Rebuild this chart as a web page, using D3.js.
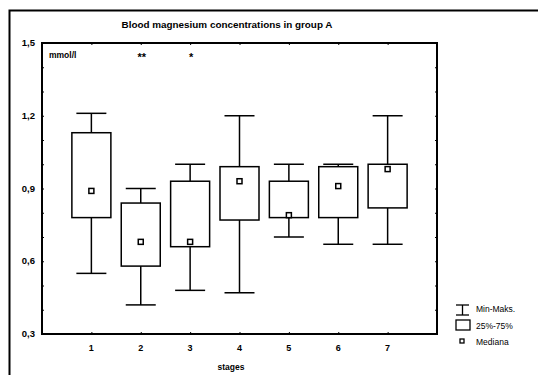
<!DOCTYPE html>
<html>
<head>
<meta charset="utf-8">
<script src="https://cdn.jsdelivr.net/npm/d3@7"></script>
<style>
    body { margin: 0; background: #fff; }
    text { font-family: "Liberation Sans", Arial, sans-serif; font-weight: bold; fill: #000; }
</style>
</head>
<body>
<div id="chart"></div>
<script>
// Stages and box values (mmol/l)
const stages = [1, 2, 3, 4, 5, 6, 7];
const mins    = [0.55, 0.42, 0.48, 0.47, 0.70, 0.67, 0.67];
const q1s     = [0.78, 0.58, 0.66, 0.77, 0.78, 0.78, 0.82];
const medians = [0.89, 0.68, 0.68, 0.93, 0.79, 0.91, 0.98];
const q3s     = [1.13, 0.84, 0.93, 0.99, 0.93, 0.99, 1.00];
const maxs    = [1.21, 0.90, 1.00, 1.20, 1.00, 1.00, 1.20];
const yTicks = [0.3, 0.6, 0.9, 1.2, 1.5];
const marks = [[2, "**"], [3, "*"]];
const legendItems = ["Min-Maks.", "25%-75%", "Mediana"];

const width = 538, height = 375;
const plot = {left: 42, right: 437, top: 43, bottom: 334};

const svg = d3.select("#chart").append("svg")
    .attr("width", width)
    .attr("height", height);

// Outer frame
svg.append("rect")
    .attr("x", 9.5).attr("y", 10.5)
    .attr("width", 560).attr("height", 400)
    .attr("fill", "none").attr("stroke", "#000").attr("stroke-width", 2);

const x = d3.scaleLinear().domain([0, 8]).range([plot.left, plot.right]);
const y = d3.scaleLinear().domain([0.3, 1.5]).range([plot.bottom, plot.top]);

// Title
svg.append("text")
    .attr("x", 227).attr("y", 28)
    .attr("text-anchor", "middle")
    .style("font-size", "9.9px")
    .text("Blood magnesium concentrations in group A");

// Axes: ticks drawn inward
const minorTicks = d3.range(0.4, 1.5, 0.1);
svg.append("g")
    .attr("transform", `translate(${plot.left},0)`)
    .call(d3.axisLeft(y).tickValues(minorTicks).tickSize(-2).tickFormat(""))
    .call(g => g.select(".domain").remove());
svg.append("g")
    .attr("transform", `translate(${plot.right},0)`)
    .call(d3.axisRight(y).tickValues(minorTicks).tickSize(-2).tickFormat(""))
    .call(g => g.select(".domain").remove());
svg.append("g")
    .attr("transform", `translate(0,${plot.bottom})`)
    .call(d3.axisBottom(x).tickValues(stages).tickSize(-2).tickFormat(""))
    .call(g => g.select(".domain").remove());
svg.append("g")
    .attr("transform", `translate(0,${plot.top})`)
    .call(d3.axisTop(x).tickValues(stages).tickSize(-2).tickFormat(""))
    .call(g => g.select(".domain").remove());

svg.append("rect")
    .attr("x", plot.left).attr("y", plot.top)
    .attr("width", plot.right - plot.left).attr("height", plot.bottom - plot.top)
    .attr("fill", "none").attr("stroke", "#000").attr("stroke-width", 2);

// Tick labels
svg.selectAll(".ylab")
    .data(yTicks)
    .enter()
    .append("text")
    .attr("class", "ylab")
    .attr("x", 35).attr("y", d => y(d) + 3)
    .attr("text-anchor", "end")
    .style("font-size", "9.5px")
    .text(d => d3.format(".1f")(d).replace(".", ","));

svg.selectAll(".xlab")
    .data(stages)
    .enter()
    .append("text")
    .attr("class", "xlab")
    .attr("x", d => x(d)).attr("y", 351)
    .attr("text-anchor", "middle")
    .style("font-size", "9px")
    .text(d => d);

svg.append("text")
    .attr("x", 231).attr("y", 370)
    .attr("text-anchor", "middle")
    .style("font-size", "8.5px")
    .text("stages");

svg.append("text")
    .attr("x", 49).attr("y", 58)
    .style("font-size", "8.5px")
    .text("mmol/l");

svg.selectAll(".mark")
    .data(marks)
    .enter()
    .append("text")
    .attr("class", "mark")
    .attr("x", d => x(d[0]) + 1).attr("y", 61)
    .attr("text-anchor", "middle")
    .style("font-size", "11px")
    .text(d => d[1]);

// Boxes
const boxW = 39, capW = 30;
const boxes = svg.selectAll(".box")
    .data(stages)
    .enter()
    .append("g")
    .attr("class", "box")
    .attr("stroke", "#000")
    .attr("stroke-width", 1.5)
    .attr("fill", "none");

boxes.append("line")
    .attr("x1", d => x(d)).attr("x2", d => x(d))
    .attr("y1", (d, i) => y(maxs[i])).attr("y2", (d, i) => y(q3s[i]));
boxes.append("line")
    .attr("x1", d => x(d)).attr("x2", d => x(d))
    .attr("y1", (d, i) => y(q1s[i])).attr("y2", (d, i) => y(mins[i]));
boxes.append("line")
    .attr("x1", d => x(d) - capW / 2).attr("x2", d => x(d) + capW / 2)
    .attr("y1", (d, i) => y(maxs[i])).attr("y2", (d, i) => y(maxs[i]));
boxes.append("line")
    .attr("x1", d => x(d) - capW / 2).attr("x2", d => x(d) + capW / 2)
    .attr("y1", (d, i) => y(mins[i])).attr("y2", (d, i) => y(mins[i]));
boxes.append("rect")
    .attr("x", d => x(d) - boxW / 2)
    .attr("y", (d, i) => y(q3s[i]))
    .attr("width", boxW)
    .attr("height", (d, i) => y(q1s[i]) - y(q3s[i]))
    .attr("fill", "#fff");
boxes.append("rect")
    .attr("x", d => x(d) - 2.5)
    .attr("y", (d, i) => y(medians[i]) - 2.5)
    .attr("width", 5).attr("height", 5)
    .attr("fill", "#fff");

// Legend
const lg = svg.append("g").attr("stroke", "#000").attr("stroke-width", 1.3).attr("fill", "none");
lg.append("line").attr("x1", 456).attr("x2", 469).attr("y1", 305).attr("y2", 305);
lg.append("line").attr("x1", 456).attr("x2", 469).attr("y1", 315).attr("y2", 315);
lg.append("line").attr("x1", 462.5).attr("x2", 462.5).attr("y1", 305).attr("y2", 315);
lg.append("rect").attr("x", 456).attr("y", 320).attr("width", 14).attr("height", 10);
lg.append("rect").attr("x", 460).attr("y", 339).attr("width", 4).attr("height", 4);

svg.selectAll(".leg")
    .data(legendItems)
    .enter()
    .append("text")
    .attr("class", "leg")
    .attr("x", 476)
    .attr("y", (d, i) => 312 + i * 16.5)
    .style("font-size", "8.5px")
    .style("font-weight", "normal")
    .text(d => d);
</script>
</body>
</html>
